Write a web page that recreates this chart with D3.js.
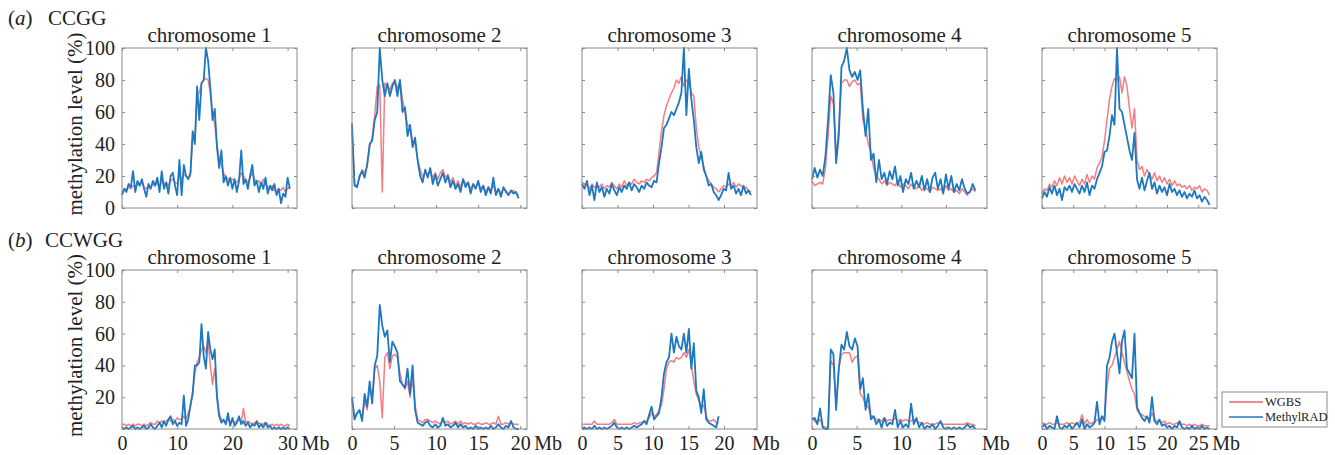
<!DOCTYPE html>
<html>
<head>
<meta charset="utf-8">
<script src="https://cdn.jsdelivr.net/npm/d3@7"></script>
<style>
body { margin: 0; background: #fff; }
svg text { font-family: "Liberation Serif", "Times New Roman", serif; fill: #222; }
</style>
</head>
<body>
<div id="chart"></div>
<script>
var chromNames = ["chromosome 1", "chromosome 2", "chromosome 3", "chromosome 4", "chromosome 5"];
var axisMaxMb = [31.7, 20.8, 24.65, 19.6, 28.0];
var binMb = [0.4, 0.3, 0.35, 0.3, 0.4];
var xTickValues = [[0, 10, 20, 30], [0, 5, 10, 15, 20], [0, 5, 10, 15, 20], [0, 5, 10, 15], [0, 5, 10, 15, 20, 25]];
var yTickValues = [0, 20, 40, 60, 80, 100];
var rowNames = ["CCGG", "CCWGG"];
var rowLetters = ["a", "b"];
var seriesNames = ["WGBS", "MethylRAD"];
var seriesColors = ["#f2666c", "#1c78c0"];

// (a) CCGG, methylation level (%) per bin
var ccggWgbs1 = [10,11,12,13,12,14,13,15,14,16, 13,12,14,13,15,14,16,13,17,15, 16,14,17,18,16,15,20,18,21,20,19, 20,44,42,70,72,78,80,81,80,72,60,52,40,30,27,22,19,18,17, 18,17,16,18,22,20,17,16,19,22, 18,16,17,14,18,15,13,12,14,11, 10,12,11,13,10,12,13];
var ccggMethyl1 = [8,12,10,15,13,23,10,17,14,18, 12,7,15,12,17,14,19,10,23,12, 16,9,20,22,14,8,30,8,27,20,18, 22,48,40,76,55,78,80,100,92,75,55,62,38,25,36,16,20,14,19, 12,18,10,17,36,15,18,12,20,27, 14,17,10,16,12,19,9,14,11,15, 8,12,3,9,7,19,12];
var ccggWgbs2 = [48,15,14,19,24,22,26,38,44,58, 76,77,10,78,76,74,78,79,75,79, 68,60,52,50,42,40,30,24,19,22, 21,23,19,22,18,22,24,19,21,16, 19,14,17,13,18,15,16,12,15,13, 16,12,14,10,13,11,14,10,12,9, 12,11,9,10,11,9,8];
var ccggMethyl2 = [53,14,13,20,23,19,27,40,42,55, 60,100,80,70,78,70,76,80,70,80, 60,63,45,52,38,44,30,20,16,24, 19,25,15,21,14,18,22,16,20,13, 17,12,15,10,18,13,16,9,15,12, 17,10,14,8,13,9,19,8,12,7, 13,10,8,11,9,10,6];
var ccggWgbs3 = [16,15,14,12,15,13,14,13,15,12, 14,13,16,14,12,15,13,17,14,16, 15,18,16,15,17,16,18,17,19, 20,22,35,48,58,64,68,72,75,80, 78,82,76,80,78,72,70,50,38,32, 26,20,17,15,13,12,10,12,14,13, 15,14,16,13,15,14,12,13,11,10];
var ccggMethyl3 = [15,12,17,8,14,5,16,10,13,7, 12,9,15,11,8,13,10,14,12,16, 11,15,13,10,14,12,16,14,13, 17,16,28,38,50,52,56,60,58,62, 66,72,100,58,87,68,55,38,28,35, 24,20,14,15,10,8,5,8,12,11, 22,12,14,9,12,8,14,9,11,8];
var ccggWgbs4 = [17,14,15,16,15,25,45,70,65,32, 50,78,80,80,76,79,80,77,78,55, 50,40,35,25,20,18,15,17,14,16, 15,14,17,13,15,14,12,15,13,12, 14,11,13,12,10,13,12,11,12,10, 14,11,12,10,11,9,12,10,8,11, 12,10];
var ccggMethyl4 = [18,25,19,24,20,32,55,83,72,28, 45,88,92,100,86,82,85,80,86,62, 45,62,30,34,16,30,18,22,15,23, 18,26,14,20,10,18,15,22,12,17, 13,20,11,18,10,19,22,12,18,9, 21,12,20,10,15,11,18,12,9,10, 15,11];
var ccggWgbs5 = [9,12,11,15,13,17,14,19,15,20, 16,19,15,20,17,14,18,15,21,16, 20,18,25, 28,32,42,55,68,76,81,80,82,72, 82,76,62,50,62,30,24,26,20,24, 21,18,22,17,20,16,19,15,18,14, 17,14,15,13,14,12,14,11,13,12, 14,10,12,11,8];
var ccggMethyl5 = [6,10,7,13,9,14,8,12,5,13, 11,14,10,15,12,9,14,10,16,8, 14,12,18, 22,26,35,36,45,58,52,100,62,60, 52,44,36,30,47,18,12,19,11,17, 22,12,16,9,14,10,13,8,15,10, 12,8,11,7,10,6,9,7,11,6, 8,4,7,5,2];

// (b) CCWGG
var ccwggWgbs1 = [3,3,2,3,2,3,2,3,3,2, 3,2,3,4,3,3,5,4,5,4, 5,6,5,6,5,7,6,6, 8,6,10,14,24,35,42,45,50,52, 48,55,40,28,38,22,10,6,5,4,6,4, 5,4,5,6,4,13,4,5,4,3, 4,3,4,3,3,4,3,2,3,2, 3,2,3,2,2,3,2];
var ccwggMethyl1 = [1,0,1,0,1,2,0,1,0,1, 2,0,1,3,1,0,2,4,1,5, 2,6,8,3,5,2,4,3, 21,2,6,15,22,40,40,42,66,46, 38,61,50,44,50,20,8,4,6,3,10,2, 7,2,4,8,3,5,2,4,1,3, 2,5,1,3,1,4,1,2,0,1, 0,1,0,1,0,1,0];
var ccwggWgbs2 = [18,8,10,11,7,18,12,26,20,38, 40,30,7,45,48,38,46,47,45,35, 28,25,30,20,32,15,6,5,4,6, 6,5,4,5,4,3,5,4,5,3, 4,5,3,5,3,4,3,4,3,3, 4,3,3,4,3,3,4,3,8,3, 3,4,3,4,3,3,3];
var ccwggMethyl2 = [20,6,10,12,5,22,14,30,16,40, 46,78,65,58,62,42,55,52,48,30, 28,26,38,22,40,12,4,3,2,4, 5,2,1,3,1,2,7,2,3,1, 2,4,1,3,1,2,0,1,0,2, 0,1,0,1,0,2,0,1,3,1, 0,2,1,5,1,0,0];
var ccwggWgbs3 = [3,3,3,3,3,5,3,3,3,3, 3,3,4,6,3,3,3,3,3,3, 3,4,3,4,4,5,5, 7,10,8,9,12,15,25,38,42,43, 42,45,44,45,48,45,50,40,30,22, 18,14,15,8,5,5,6,4,4];
var ccwggMethyl3 = [0,1,0,1,0,2,0,1,0,1, 0,1,2,4,1,0,1,0,1,0, 1,2,1,2,3,5,3, 9,14,6,8,10,20,35,42,45,60, 48,58,52,50,60,48,63,38,54,24, 20,10,25,6,4,3,2,1,8];
var ccwggWgbs4 = [7,5,4,6,2,1,1,43,40,15, 38,47,48,48,48,42,45,46,22,20, 15,14,8,8,6,6,5,7,5,6, 5,7,5,6,5,6,5,5,6,5, 4,4,3,4,3,3,3,4,4,3, 3,3,3,3,3,3,3,3,4,3, 3,2];
var ccwggMethyl4 = [6,7,3,13,1,0,0,50,47,12, 38,53,50,61,52,50,57,52,25,32, 12,22,6,8,3,6,1,7,2,4, 3,12,1,5,1,3,1,16,3,7, 1,4,0,2,1,3,0,2,5,1, 0,1,0,1,0,1,0,1,3,1, 2,0];
var ccwggWgbs5 = [4,3,3,4,3,3,4,3,3,3, 4,3,4,3,3,4,9,3,6,3, 4,4,6, 5,8,7,27,38,40,45,50,55,48, 42,36,30,25,22,12,10,9,8,7, 6,10,6,5,5,4,5,3,4,3, 3,4,3,3,3,2,3,2,3,2, 2,3,2,2,2];
var ccwggMethyl5 = [1,3,0,2,1,0,8,1,0,2, 1,3,0,2,4,1,6,0,3,1, 2,4,17, 3,8,5,40,45,55,60,48,35,55, 62,38,35,32,60,14,10,7,5,8, 4,20,5,3,6,2,3,1,2,0, 2,1,5,1,0,1,0,2,0,1, 0,2,0,1,0];

var rowSeries = [
  [[ccggWgbs1, ccggMethyl1], [ccggWgbs2, ccggMethyl2], [ccggWgbs3, ccggMethyl3], [ccggWgbs4, ccggMethyl4], [ccggWgbs5, ccggMethyl5]],
  [[ccwggWgbs1, ccwggMethyl1], [ccwggWgbs2, ccwggMethyl2], [ccwggWgbs3, ccwggMethyl3], [ccwggWgbs4, ccwggMethyl4], [ccwggWgbs5, ccwggMethyl5]]
];

var panelLeft = 122, panelStep = 230, panelW = 175;
var rowTop = [48, 270], panelH = [160, 159];
var serif = '"Liberation Serif", "Times New Roman", serif';

var svg = d3.select("#chart").append("svg").attr("width", 1335).attr("height", 455);

rowSeries.forEach(function(row, r) {
  var head = svg.append("text").attr("x", 8).attr("y", rowTop[r] - 23).style("font-size", "21px");
  head.append("tspan").text("(");
  head.append("tspan").style("font-style", "italic").text(rowLetters[r]);
  head.append("tspan").text(")");
  svg.append("text").attr("x", r == 0 ? 48 : 45).attr("y", rowTop[r] - 23).style("font-size", "21px").text(rowNames[r]);

  svg.append("text").attr("transform", "translate(82," + (rowTop[r] + panelH[r] / 2 - 4) + ") rotate(-90)")
     .attr("text-anchor", "middle").style("font-size", "21px").text("methylation level (%)");

  row.forEach(function(pair, c) {
    var h = panelH[r];
    var g = svg.append("g").attr("transform", "translate(" + (panelLeft + c * panelStep) + "," + rowTop[r] + ")");
    var x = d3.scaleLinear().domain([0, axisMaxMb[c]]).range([0, panelW]);
    var y = d3.scaleLinear().domain([0, 100]).range([h, 0]);

    g.append("text").attr("x", panelW / 2).attr("y", -6).attr("text-anchor", "middle").style("font-size", "21px").text(chromNames[c]);

    var line = d3.line().x(function(d, i) { return x(i * binMb[c]); }).y(function(d) { return y(d); });
    pair.forEach(function(vals, s) {
      g.append("path").datum(vals).attr("d", line)
       .style("fill", "none").style("stroke", seriesColors[s])
       .style("stroke-width", s == 0 ? 1.5 : 1.8).style("stroke-linejoin", "round")
       .style("opacity", s == 0 ? 0.85 : 1);
    });

    g.append("rect").attr("width", panelW).attr("height", h).style("fill", "none").style("stroke", "#8a8a8a").style("stroke-width", 1);

    var bottom = g.append("g").attr("transform", "translate(0," + h + ")")
      .call(d3.axisBottom(x).tickValues(xTickValues[c]).tickSize(-3).tickPadding(7)
        .tickFormat(r == 1 ? d3.format("d") : function() { return ""; }));
    var top = g.append("g").call(d3.axisTop(x).tickValues(xTickValues[c]).tickSize(-3).tickFormat(""));
    var left = g.append("g")
      .call(d3.axisLeft(y).tickValues(yTickValues).tickSize(-3).tickPadding(7)
        .tickFormat(function(d) { return c > 0 || (r == 1 && d == 0) ? "" : d; }));
    var right = g.append("g").attr("transform", "translate(" + panelW + ",0)")
      .call(d3.axisRight(y).tickValues(yTickValues).tickSize(-3).tickFormat(""));

    [bottom, top, left, right].forEach(function(a) {
      a.select(".domain").remove();
      a.selectAll(".tick line").style("stroke", "#8a8a8a");
      a.selectAll("text").attr("font-family", serif).style("font-size", "20px").style("fill", "#222");
    });

    if (r == 1) {
      var lastTick = xTickValues[c][xTickValues[c].length - 1];
      var mbX = Math.max(panelW - 5, x(lastTick) + 14);
      g.append("text").attr("x", mbX).attr("y", h + 21).style("font-size", "20px").text("Mb");
    }
  });
});

var legend = svg.append("g").attr("transform", "translate(1222,392)");
legend.append("rect").attr("width", 105).attr("height", 35).style("fill", "#fff").style("stroke", "#8a8a8a").style("stroke-width", 1);
seriesNames.forEach(function(name, s) {
  legend.append("line").attr("x1", 7).attr("x2", 41).attr("y1", 10 + s * 15).attr("y2", 10 + s * 15)
        .style("stroke", seriesColors[s]).style("stroke-width", 1.5);
  legend.append("text").attr("x", 43).attr("y", 14 + s * 15).style("font-size", "12.5px").text(name);
});
</script>
</body>
</html>
